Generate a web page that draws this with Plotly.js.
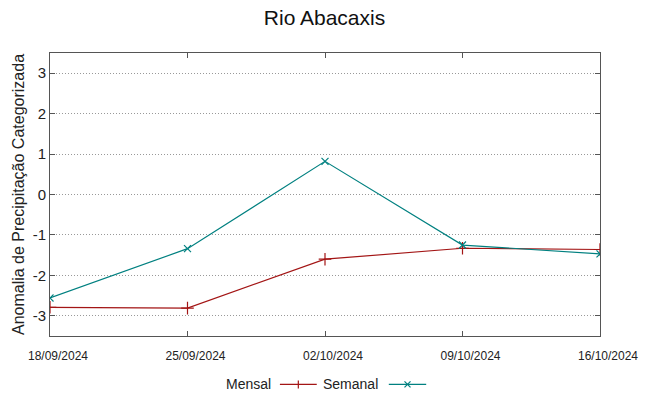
<!DOCTYPE html>
<html>
<head>
<meta charset="utf-8">
<script src="https://cdn.plot.ly/plotly-3.0.1.min.js"></script>
<style>html,body{margin:0;padding:0;background:#fff;}#chart{width:649px;height:396px;}</style>
</head>
<body>
<div id="chart"></div>
<script>
const dates = ['2024-09-18', '2024-09-25', '2024-10-02', '2024-10-09', '2024-10-16'];
const tickLabels = ['18/09/2024', '25/09/2024', '02/10/2024', '09/10/2024', '16/10/2024'];
const yTickVals = [-3, -2, -1, 0, 1, 2, 3];
const yTickLabels = ['-3', '-2', '-1', '0', '1', '2', '3'];
const mensal = [-2.79, -2.81, -1.60, -1.33, -1.36];
const semanal = [-2.56, -1.34, 0.82, -1.25, -1.47];
const seriesNames = ['Mensal', 'Semanal'];

const cRed = '#a31515';
const cTeal = '#008080';
const font = 'Liberation Sans, Arial, sans-serif';

const traces = [
  {x: dates, y: mensal, name: seriesNames[0], type: 'scatter', mode: 'lines+markers',
   line: {color: cRed, width: 1.2}, marker: {symbol: 'cross-thin-open', size: 9, line: {color: cRed, width: 1.2}}},
  {x: dates, y: semanal, name: seriesNames[1], type: 'scatter', mode: 'lines+markers',
   line: {color: cTeal, width: 1.2}, marker: {symbol: 'x-thin-open', size: 7, line: {color: cTeal, width: 1.2}}}
];

// manual legend (text left, sample right)
const legY = -0.171;
const legend = [
  {text: seriesNames[0], xr: 0.405, l0: 0.418, l1: 0.485, color: cRed, sym: 'plus'},
  {text: seriesNames[1], xr: 0.600, l0: 0.616, l1: 0.684, color: cTeal, sym: 'x'}
];
const annotations = [];
const shapes = [];
legend.forEach(e => {
  annotations.push({xref: 'paper', yref: 'paper', x: e.xr, y: legY, xanchor: 'right', yanchor: 'middle',
    text: e.text, showarrow: false, font: {family: font, size: 14, color: '#222'}});
  shapes.push({type: 'line', xref: 'paper', yref: 'paper', x0: e.l0, x1: e.l1, y0: legY, y1: legY,
    line: {color: e.color, width: 1.2}});
  const xm = (e.l0 + e.l1) / 2;
  if (e.sym === 'plus') {
    shapes.push({type: 'line', xref: 'paper', yref: 'paper', xsizemode: 'pixel', xanchor: xm, x0: 0, x1: 0,
      ysizemode: 'pixel', yanchor: legY, y0: -4, y1: 4, line: {color: e.color, width: 1.2}});
  } else {
    shapes.push({type: 'line', xref: 'paper', yref: 'paper', xsizemode: 'pixel', xanchor: xm, x0: -3, x1: 3,
      ysizemode: 'pixel', yanchor: legY, y0: -3, y1: 3, line: {color: e.color, width: 1.2}});
    shapes.push({type: 'line', xref: 'paper', yref: 'paper', xsizemode: 'pixel', xanchor: xm, x0: -3, x1: 3,
      ysizemode: 'pixel', yanchor: legY, y0: 3, y1: -3, line: {color: e.color, width: 1.2}});
  }
});

const layout = {
  width: 649, height: 396,
  margin: {l: 50, r: 49, t: 53, b: 60},
  paper_bgcolor: '#fff', plot_bgcolor: '#fff',
  showlegend: false,
  font: {family: font, color: '#222'},
  title: {text: 'Rio Abacaxis', font: {family: font, size: 21, color: '#111'}, x: 0.5, xanchor: 'center', y: 0.955, yanchor: 'middle'},
  xaxis: {
    type: 'date', range: [dates[0], dates[dates.length - 1]],
    tickvals: dates, ticktext: tickLabels,
    tickfont: {family: font, size: 12, color: '#222'},
    ticks: 'inside', ticklen: 5, tickcolor: '#555', showline: true, linecolor: '#555', linewidth: 1, mirror: 'ticks',
    showgrid: false, zeroline: false, ticklabelstandoff: 9, ticklabelshift: 8
  },
  yaxis: {
    range: [-3.5, 3.5], tickvals: yTickVals, ticktext: yTickLabels,
    tickfont: {family: font, size: 15, color: '#222'},
    ticks: 'inside', ticklen: 5, tickcolor: '#555', showline: true, linecolor: '#555', linewidth: 1, mirror: 'ticks',
    showgrid: true, gridcolor: '#999', griddash: '1px,2px', gridwidth: 1, zeroline: false,
    title: {text: 'Anomalia de Precipitação Categorizada', font: {family: font, size: 16, color: '#222'}, standoff: 4}
  },
  annotations: annotations,
  shapes: shapes
};

Plotly.newPlot('chart', traces, layout, {staticPlot: true, displayModeBar: false});
</script>
</body>
</html>
